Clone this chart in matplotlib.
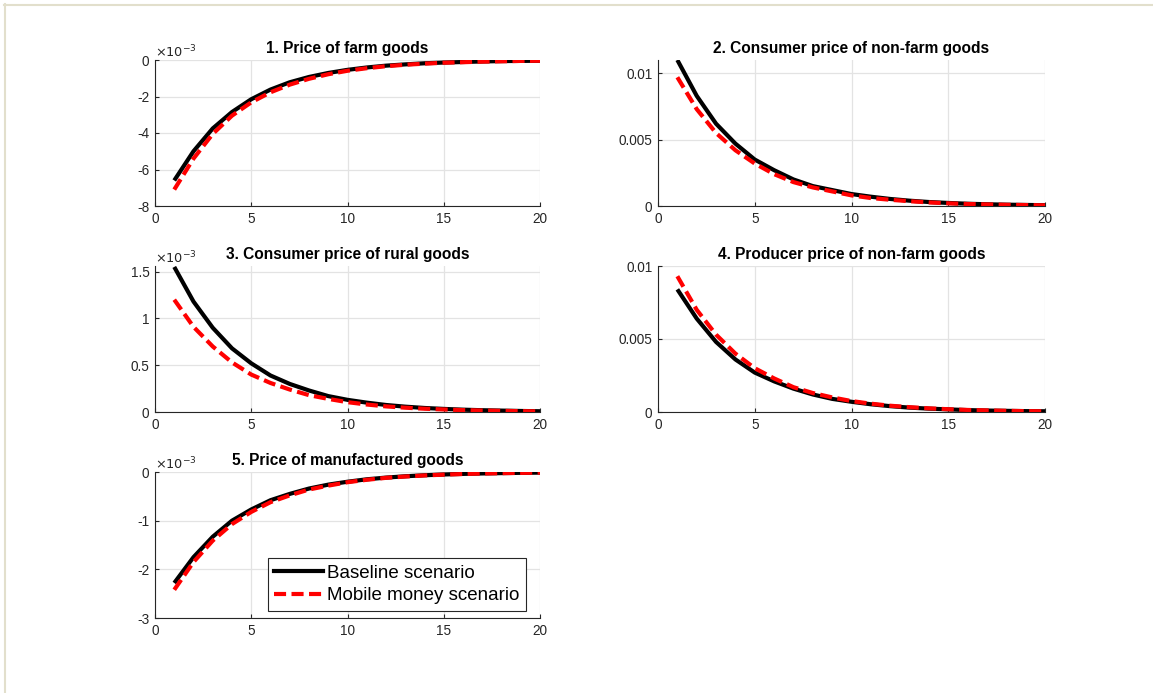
import matplotlib.pyplot as plt
from matplotlib.lines import Line2D

plt.rcParams['font.family'] = ['Liberation Sans', 'DejaVu Sans']

periods = list(range(1, 21))

# panel titles
titles = ['1. Price of farm goods',
          '2. Consumer price of non-farm goods',
          '3. Consumer price of rural goods',
          '4. Producer price of non-farm goods',
          '5. Price of manufactured goods']

# values in units of 1e-3 for panels 1, 3, 5
farm_base = [-6.6, -5.0, -3.75, -2.85, -2.15, -1.62, -1.22, -0.93, -0.71, -0.54,
             -0.41, -0.31, -0.24, -0.18, -0.14, -0.11, -0.08, -0.06, -0.05, -0.04]
farm_mm = [-7.1, -5.4, -4.05, -3.05, -2.32, -1.77, -1.35, -1.03, -0.78, -0.59,
           -0.45, -0.34, -0.26, -0.2, -0.15, -0.12, -0.09, -0.07, -0.05, -0.04]

nonfarm_base = [0.0110, 0.0083, 0.0062, 0.0047, 0.0035, 0.0027, 0.0020, 0.0015, 0.0012, 0.0009,
                0.0007, 0.00053, 0.0004, 0.0003, 0.00023, 0.00017, 0.00013, 0.0001, 0.00008, 0.00006]
nonfarm_mm = [0.0097, 0.0073, 0.0055, 0.0042, 0.0032, 0.0024, 0.0018, 0.0014, 0.0011, 0.0008,
              0.0006, 0.00047, 0.00036, 0.00027, 0.0002, 0.00015, 0.00012, 0.00009, 0.00007, 0.00005]

rural_base = [1.55, 1.18, 0.90, 0.68, 0.52, 0.39, 0.30, 0.23, 0.17, 0.13,
              0.10, 0.075, 0.057, 0.043, 0.033, 0.025, 0.019, 0.015, 0.011, 0.008]
rural_mm = [1.2, 0.91, 0.70, 0.53, 0.40, 0.31, 0.24, 0.18, 0.14, 0.105,
            0.08, 0.06, 0.046, 0.035, 0.027, 0.02, 0.016, 0.012, 0.009, 0.007]

producer_base = [0.0084, 0.0064, 0.0048, 0.0036, 0.0027, 0.0021, 0.0016, 0.0012, 0.0009, 0.0007,
                 0.00053, 0.0004, 0.0003, 0.00023, 0.00018, 0.00013, 0.0001, 0.00008, 0.00006, 0.00005]
producer_mm = [0.0093, 0.0070, 0.0053, 0.0040, 0.0030, 0.0023, 0.0017, 0.0013, 0.001, 0.00075,
               0.00057, 0.00043, 0.00033, 0.00025, 0.00019, 0.00014, 0.00011, 0.00008, 0.00006, 0.00005]

manuf_base = [-2.28, -1.75, -1.33, -1.0, -0.77, -0.58, -0.45, -0.34, -0.26, -0.2,
              -0.15, -0.115, -0.088, -0.067, -0.051, -0.039, -0.03, -0.023, -0.017, -0.013]
manuf_mm = [-2.42, -1.85, -1.41, -1.07, -0.82, -0.62, -0.48, -0.36, -0.28, -0.21,
            -0.16, -0.12, -0.093, -0.071, -0.054, -0.041, -0.031, -0.024, -0.018, -0.014]

series = [(farm_base, farm_mm), (nonfarm_base, nonfarm_mm), (rural_base, rural_mm),
          (producer_base, producer_mm), (manuf_base, manuf_mm)]

ylims = [(-8, 0), (0, 0.011), (0, 1.56), (0, 0.01), (-3, 0)]
yticks = [[-8, -6, -4, -2, 0], [0, 0.005, 0.01], [0, 0.5, 1, 1.5],
          [0, 0.005, 0.01], [-3, -2, -1, 0]]
yticklabels = [['-8', '-6', '-4', '-2', '0'], ['0', '0.005', '0.01'],
               ['0', '0.5', '1', '1.5'], ['0', '0.005', '0.01'],
               ['-3', '-2', '-1', '0']]
scaled = [True, False, True, False, True]

W, H = 1153, 693
fig = plt.figure(figsize=(W / 100, H / 100), dpi=100)

# axes boxes in pixels: left, top, right, bottom
boxes = [(155, 60, 540, 206), (658, 60, 1045, 206),
         (155, 266, 540, 412), (658, 266, 1045, 412),
         (155, 472, 540, 618)]

grey = '#262626'
red_dash = (2.9, 1.3)
for i, (l, t, r, b) in enumerate(boxes):
    ax = fig.add_axes([l / W, 1 - b / H, (r - l) / W, (b - t) / H])
    base, mm = series[i]
    ax.plot(periods, base, color='black', lw=3.0, solid_capstyle='butt', zorder=3)
    ax.plot(periods, mm, color='#ff0000', lw=3.0, dashes=red_dash, zorder=4)
    ax.set_xlim(0, 20)
    ax.set_ylim(*ylims[i])
    ax.set_xticks([0, 5, 10, 15, 20])
    ax.set_yticks(yticks[i])
    ax.set_yticklabels(yticklabels[i])
    ax.grid(True, color='#e3e3e3', lw=0.9)
    ax.set_axisbelow(True)
    for s in ['top', 'right']:
        ax.spines[s].set_visible(False)
    for s in ['left', 'bottom']:
        ax.spines[s].set_color(grey)
        ax.spines[s].set_linewidth(0.8)
    ax.tick_params(direction='in', length=3, width=0.8, colors=grey,
                   labelsize=9.8, labelcolor=grey, pad=4)
    ax.set_title(titles[i], fontsize=11.2, fontweight='bold', pad=5)
    if scaled[i]:
        ax.text(0.0, 1.0, r'$\times 10^{-3}$', transform=ax.transAxes, fontsize=9.3,
                color=grey, ha='left', va='bottom')
    if i == 4:
        handles = [Line2D([], [], color='black', lw=3.0),
                   Line2D([], [], color='#ff0000', lw=3.0, dashes=red_dash)]
        leg = ax.legend(handles, ['Baseline scenario', 'Mobile money scenario'],
                        loc='lower left', bbox_to_anchor=(0.293, 0.048),
                        fontsize=13.5, handlelength=2.6, handletextpad=0.2,
                        borderpad=0.35, labelspacing=0.3, fancybox=False,
                        framealpha=1, borderaxespad=0)
        leg.get_frame().set_edgecolor(grey)
        leg.get_frame().set_linewidth(0.8)

# light frame lines at the top and left edge
fig.add_artist(Line2D([4 / W, 1], [1 - 4.5 / H, 1 - 4.5 / H], color='#e2dfcc', lw=1.5,
                      transform=fig.transFigure))
fig.add_artist(Line2D([4.5 / W, 4.5 / W], [0, 1 - 4 / H], color='#e2dfcc', lw=1.5,
                      transform=fig.transFigure))

fig.savefig('out.png', dpi=100)
